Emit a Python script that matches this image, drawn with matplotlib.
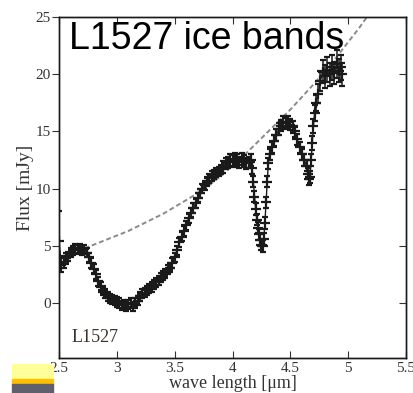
import matplotlib
matplotlib.use('Agg')
import matplotlib.pyplot as plt
from matplotlib.patches import Rectangle

plt.rcParams['font.family'] = ['Liberation Serif', 'DejaVu Serif']

# observed spectrum (wavelength in um, flux in mJy, 1-sigma error)
wave = [2.50, 2.52, 2.54, 2.56, 2.58, 2.60, 2.62, 2.64, 2.66, 2.68,
        2.70, 2.72, 2.74, 2.76, 2.78, 2.80, 2.82, 2.84, 2.86, 2.88,
        2.90, 2.92, 2.94, 2.96, 2.98, 3.00, 3.02, 3.04, 3.06, 3.08,
        3.10, 3.12, 3.14, 3.16, 3.18, 3.20, 3.22, 3.24, 3.26, 3.28,
        3.30, 3.32, 3.34, 3.36, 3.38, 3.40, 3.42, 3.44, 3.46, 3.48,
        3.50, 3.52, 3.54, 3.56, 3.58, 3.60, 3.62, 3.64, 3.66, 3.68,
        3.70, 3.72, 3.74, 3.76, 3.78, 3.80, 3.82, 3.84, 3.86, 3.88,
        3.90, 3.92, 3.94, 3.96, 3.98, 4.00, 4.02, 4.04, 4.06, 4.08,
        4.10, 4.12, 4.14, 4.16, 4.17, 4.18, 4.19, 4.20, 4.21, 4.22,
        4.23, 4.24, 4.25, 4.26, 4.27, 4.28, 4.29, 4.30, 4.31, 4.32,
        4.34, 4.36, 4.38, 4.40, 4.42, 4.44, 4.46, 4.48, 4.50, 4.52,
        4.54, 4.56, 4.58, 4.60, 4.62, 4.64, 4.65, 4.66, 4.67, 4.68,
        4.69, 4.70, 4.71, 4.72, 4.74, 4.76, 4.78, 4.80, 4.82, 4.84,
        4.86, 4.88, 4.90, 4.92, 4.94, 4.95]
flux = [5.4, 3.3, 3.6, 3.9, 4.1, 4.4, 4.6, 4.8, 4.7, 4.8,
        4.6, 4.7, 4.4, 4.0, 3.5, 3.0, 2.5, 1.9, 1.4, 1.1,
        0.8, 0.6, 0.4, 0.3, 0.2, 0.1, 0.0, -0.2, -0.1, -0.3,
        -0.1, 0.0, -0.3, 0.0, 0.2, 0.6, 0.8, 0.9, 1.1, 1.3,
        1.4, 1.6, 1.8, 2.0, 2.2, 2.4, 2.6, 2.9, 3.1, 3.5,
        4.0, 4.6, 5.3, 5.8, 6.3, 6.8, 7.4, 7.9, 8.3, 8.7,
        9.2, 9.6, 10.0, 10.3, 10.6, 10.9, 11.1, 11.2, 11.4, 11.5,
        11.7, 11.9, 12.2, 12.3, 12.5, 12.4, 12.6, 12.5, 12.3, 12.6,
        12.4, 12.2, 12.3, 12.5, 11.8, 10.6, 9.3, 8.2, 7.3, 6.6,
        6.0, 5.5, 5.1, 5.0, 5.6, 7.0, 8.8, 10.6, 12.2, 13.0,
        13.6, 14.2, 14.7, 15.2, 15.5, 15.8, 15.7, 15.8, 15.6, 15.4,
        15.0, 14.3, 13.6, 13.0, 12.5, 12.0, 11.3, 10.8, 11.0, 12.5,
        14.0, 15.5, 16.6, 17.5, 18.3, 19.4, 20.2, 19.8, 20.4, 20.0,
        20.6, 20.1, 20.9, 20.3, 20.6, 20.0]
flux_err = [2.6, 0.6, 0.5, 0.5, 0.4, 0.4, 0.4, 0.4, 0.4, 0.4,
            0.4, 0.4, 0.4, 0.4, 0.4, 0.4, 0.4, 0.4, 0.4, 0.4,
            0.4, 0.4, 0.4, 0.4, 0.4, 0.4, 0.4, 0.4, 0.4, 0.4,
            0.4, 0.4, 0.4, 0.4, 0.4, 0.4, 0.4, 0.4, 0.4, 0.4,
            0.4, 0.4, 0.4, 0.4, 0.4, 0.4, 0.4, 0.4, 0.4, 0.4,
            0.4, 0.4, 0.4, 0.4, 0.4, 0.4, 0.4, 0.4, 0.4, 0.4,
            0.4, 0.4, 0.4, 0.4, 0.4, 0.4, 0.4, 0.4, 0.4, 0.4,
            0.4, 0.5, 0.5, 0.5, 0.5, 0.5, 0.5, 0.5, 0.5, 0.5,
            0.5, 0.5, 0.5, 0.5, 0.5, 0.5, 0.5, 0.5, 0.5, 0.5,
            0.5, 0.5, 0.5, 0.5, 0.5, 0.5, 0.5, 0.5, 0.5, 0.5,
            0.5, 0.5, 0.5, 0.5, 0.5, 0.5, 0.5, 0.5, 0.5, 0.5,
            0.5, 0.5, 0.5, 0.5, 0.5, 0.5, 0.5, 0.5, 0.5, 0.5,
            0.6, 0.6, 0.7, 0.7, 0.8, 0.9, 1.0, 1.0, 1.1, 1.0,
            1.1, 1.0, 1.2, 1.0, 1.1, 1.0]

# continuum baseline (dashed)
cont_wave = [2.72, 2.80, 2.90, 3.00, 3.10, 3.20, 3.30, 3.40, 3.50, 3.60,
             3.70, 3.80, 3.90, 4.00, 4.10, 4.20, 4.30, 4.40, 4.50, 4.60,
             4.70, 4.80, 4.90, 5.00, 5.10, 5.17]
cont_flux = [4.8, 5.1, 5.5, 5.9, 6.3, 6.8, 7.3, 7.8, 8.4, 9.0,
             9.6, 10.3, 11.1, 12.0, 12.9, 13.9, 14.9, 15.9, 16.9, 18.0,
             19.1, 20.3, 21.5, 22.8, 24.1, 25.1]

x_ticks = [2.5, 3, 3.5, 4, 4.5, 5, 5.5]
x_tick_labels = ['2.5', '3', '3.5', '4', '4.5', '5', '5.5']
y_ticks = [0, 5, 10, 15, 20, 25]

fig = plt.figure(figsize=(4.13, 3.93), dpi=100)
ax = fig.add_axes([0.143, 0.089, 0.840, 0.868])

ink = '#1a1a1a'
ax.plot(cont_wave, cont_flux, '--', color='#8a8a8a', lw=1.4, dashes=(2.5, 1.5))
ax.errorbar(wave, flux, yerr=flux_err, fmt='-+', color=ink, lw=1.0,
            ms=7, mew=1.6, elinewidth=1.1, capsize=2.5, capthick=1.1)

ax.set_xlim(2.5, 5.5)
ax.set_ylim(-4.8, 25)
ax.set_xticks(x_ticks)
ax.set_xticklabels(x_tick_labels)
ax.set_yticks(y_ticks)

ax.tick_params(axis='x', direction='in', top=True, length=5, width=0.8,
               labelsize=11, pad=3, colors='#333333')
ax.tick_params(axis='y', left=True, right=False, direction='out',
               length=5, width=0.8, labelsize=11, pad=1, colors='#333333')

# right-hand ticks point inwards
ax_r = ax.twinx()
ax_r.set_ylim(ax.get_ylim())
ax_r.set_yticks(y_ticks)
ax_r.tick_params(axis='y', direction='in', length=5, width=0.8,
                 labelright=False, colors='#333333')

for a in (ax, ax_r):
    for sp in a.spines.values():
        sp.set_linewidth(1.0)
        sp.set_color(ink)

ax.set_xlabel('wave length [\u03bcm]', fontsize=13, labelpad=0, color='#333333')
ax.set_ylabel('Flux [mJy]', fontsize=14, labelpad=1, color='#333333')

ax.text(2.61, -3.4, 'L1527', fontsize=13, color='#3a3028', ha='left', va='baseline')
ax.text(0.030, 0.906, 'L1527 ice bands', transform=ax.transAxes,
        fontsize=27, family='Liberation Sans', color='black',
        ha='left', va='baseline', zorder=10)

# colour strip in the lower left corner
fig.patches.append(Rectangle((12 / 413, 14 / 393), 41 / 413, 15 / 393,
                             transform=fig.transFigure, color='#ffff99', zorder=5))
fig.patches.append(Rectangle((12 / 413, 9 / 393), 41 / 413, 5 / 393,
                             transform=fig.transFigure, color='#ffc000', zorder=5))
fig.patches.append(Rectangle((12 / 413, 0), 41 / 413, 9 / 393,
                             transform=fig.transFigure, color='#5f5f6e', zorder=5))

fig.savefig('out.png', dpi=100, facecolor='white')
